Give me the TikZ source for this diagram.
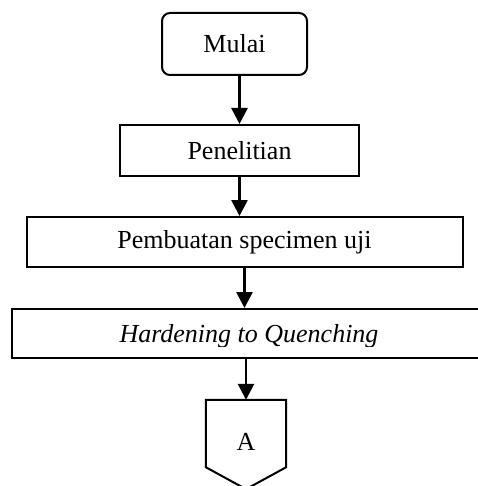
\documentclass[tikz,border=0pt]{standalone}
\usepackage{fontspec}
\setmainfont{Liberation Serif}
\usetikzlibrary{arrows.meta,calc}
\begin{document}
\begin{tikzpicture}[x=1pt,y=-1pt,
  box/.style={draw,line width=2pt,inner sep=0pt,font=\fontsize{26}{30}\selectfont},
  rbox/.style={box,rounded corners=8pt},
  arr/.style={line width=2.6pt,-{Triangle[length=16pt,width=16pt]}},
  lbl/.style={inner sep=0pt,font=\fontsize{26}{30}\selectfont}]
\useasboundingbox (0,0) rectangle (477,486);
\node[rbox,minimum width=145pt,minimum height=62pt] (mulai) at (234.5,44) {Mulai};
\node[box,minimum width=239pt,minimum height=51pt] (pen) at (239.5,150.5) {Penelitian};
\node[box,minimum width=436pt,minimum height=50pt] (pemb) at (244.5,242) {Pembuatan specimen uji};
\node[box,minimum width=478pt,minimum height=49pt] (hard) at (251,333.5) {};
\begin{scope}
\clip (0,300) rectangle (477,346);
\node[lbl,anchor=base] (hardtext) at (249,342) {\itshape Hardening to Quenching};
\end{scope}
\node[lbl,minimum width=80pt,minimum height=67pt] (a) at (246,433.5) {};
\node[lbl] (atext) at (246,442) {A};
\coordinate (atip) at ($(a.south)+(0,22)$);
\draw[line width=2pt] (a.south west) -- (a.north west) -- (a.north east) -- (a.south east) -- (atip) -- cycle;
\draw[arr] (mulai.south -| pen.north) -- (pen.north);
\draw[arr] (pen.south) -- (pen.south |- pemb.north);
\draw[arr] (pemb.south) -- (pemb.south |- hard.north);
\draw[arr] (hard.south -| a.north) -- (a.north);
\end{tikzpicture}
\end{document}
